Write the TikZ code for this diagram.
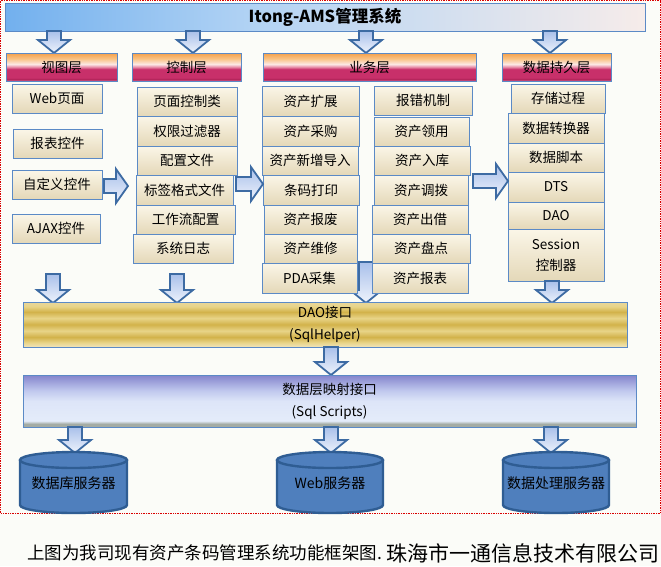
\documentclass[tikz,border=0pt]{standalone}
\usepackage{fontspec}
\setmainfont{Noto Sans CJK SC}
\definecolor{bgc}{HTML}{FBFCF8}
\definecolor{boxline}{HTML}{5B8AC6}
\definecolor{cTop}{HTML}{FBF6E8}
\definecolor{cBot}{HTML}{E4D8B8}
\definecolor{arrline}{HTML}{3D6BA3}
\definecolor{arrTop}{HTML}{A9C0EA}
\definecolor{arrBot}{HTML}{EEF3FC}
\definecolor{cylfill}{HTML}{4F7FBD}
\definecolor{cylline}{HTML}{2F5D93}
\definecolor{hO}{HTML}{F4A04A}
\definecolor{hO2}{HTML}{F9C283}
\definecolor{hL}{HTML}{FCE8E6}
\definecolor{hP}{HTML}{E68AA6}
\definecolor{hC}{HTML}{C8306A}
\definecolor{hD}{HTML}{B02458}
\definecolor{hE}{HTML}{D87098}
\definecolor{gA}{HTML}{E8D69C}
\definecolor{gB}{HTML}{D2B24A}
\definecolor{gC}{HTML}{E8D488}
\definecolor{gD}{HTML}{F0E4BC}
\definecolor{mA}{HTML}{8484CC}
\definecolor{mB}{HTML}{C0C8EE}
\definecolor{mC}{HTML}{DDE5F8}
\definecolor{mD}{HTML}{E4ECFA}
\definecolor{mE}{HTML}{A4ACA4}
\definecolor{tL}{HTML}{72B0EE}
\definecolor{tM}{HTML}{B4D4F4}
\definecolor{tR}{HTML}{F6ECEA}
\pgfdeclareverticalshading{hdrshade}{100bp}{color(0bp)=(hE); color(25bp)=(hE); color(28bp)=(hD); color(31bp)=(hC); color(46bp)=(hC); color(50bp)=(hP); color(55bp)=(hL); color(65bp)=(hO2); color(75bp)=(hO); color(100bp)=(hO)}
\pgfdeclareverticalshading{daoshade}{100bp}{color(0bp)=(gD); color(25bp)=(gD); color(30bp)=(gC); color(36bp)=(gB); color(43bp)=(gC); color(50bp)=(gB); color(57bp)=(gC); color(64bp)=(gB); color(70bp)=(gC); color(75bp)=(gA); color(100bp)=(gA)}
\pgfdeclareverticalshading{mapshade}{100bp}{color(0bp)=(mE); color(25bp)=(mE); color(28bp)=(mE); color(31bp)=(mD); color(50bp)=(mC); color(60bp)=(mB); color(75bp)=(mA); color(100bp)=(mA)}
\pgfdeclarehorizontalshading{titleshade}{100bp}{color(0bp)=(tL); color(25bp)=(tL); color(45bp)=(tM); color(75bp)=(tR); color(100bp)=(tR)}

% box by corners: style, name, x1, y1, x2, y2, text
\newcommand\BX[7]{\node[#1, minimum width={#5-#3}, minimum height={#6-#4}] (#2) at ({(#3+#5)/2},{(#4+#6)/2}) {#7};}
% down block arrow: x, ytop, ybot
\newcommand\DArr[3]{\draw[blockarrow] (#1-7,#2) -- (#1+7,#2) -- (#1+7,#3-13) -- (#1+16,#3-13) -- (#1,#3) -- (#1-16,#3-13) -- (#1-7,#3-13) -- cycle;}
% right block arrow: xl, xr, yc
\newcommand\RArr[3]{\draw[blockarrow] (#1,#3-7) -- (#2-12,#3-7) -- (#2-12,#3-17) -- (#2,#3) -- (#2-12,#3+17) -- (#2-12,#3+7) -- (#1,#3+7) -- cycle;}
% cylinder: name, cx, rx, ytop, text
\newcommand\Cyl[5]{%
 \fill[cylfill] (#2-#3,#4) rectangle (#2+#3,#4+45);
 \fill[cylfill] (#2,#4+45) ellipse [x radius=#3pt, y radius=8pt];
 \draw[cylline, line width=2.4pt] (#2-#3,#4) -- (#2-#3,#4+45) arc[start angle=180, end angle=360, x radius=#3pt, y radius=8pt] -- (#2+#3,#4);
 \draw[cylline, line width=2.4pt, fill=cylfill] (#2,#4) ellipse [x radius=#3pt, y radius=8pt];
 \node[cyltext] (#1) at (#2,#4+23) {#5};}

\begin{document}
\begin{tikzpicture}[x=1pt, y=-1pt,
  cbox/.style={draw=boxline, line width=0.8pt, top color=cTop, bottom color=cBot, inner sep=0pt, align=center, font=\fontsize{13.5}{17}\selectfont},
  hdr/.style={draw=boxline, line width=0.8pt, shade, shading=hdrshade, inner sep=0pt, font=\fontsize{13.5}{16}\selectfont},
  blockarrow/.style={draw=arrline, line width=1.8pt, top color=arrTop, bottom color=arrBot, line join=miter},
  cyltext/.style={inner sep=0pt, font=\fontsize{14}{16}\selectfont}]
\fill[bgc] (0,0) rectangle (661,566);
\useasboundingbox (0,0) rectangle (661,566);
\draw[red!85!black, densely dotted, line width=0.7pt] (0.5,0.5) rectangle (660.5,513);

% title
\node[draw=boxline, line width=0.8pt, shade, shading=titleshade, minimum width=640, minimum height=28, inner sep=0pt, font=\bfseries\fontsize{16.5}{18}\selectfont] (title) at (325,17) {Itong-AMS管理系统};

% arrows title -> headers
\DArr{54}{31}{53}
\DArr{193}{31}{53}
\DArr{366}{31}{53}
\DArr{550}{31}{53}

% headers
\BX{hdr}{h1}{6}{53}{117}{81}{视图层}
\BX{hdr}{h2}{132}{53}{241}{81}{控制层}
\BX{hdr}{h3}{263}{53}{476}{81}{业务层}
\BX{hdr}{h4}{502}{53}{611}{81}{数据持久层}

% arrow behind business boxes
\DArr{366}{262}{303}

% view layer
\BX{cbox}{v1}{12}{84}{102}{113}{Web页面}
\BX{cbox}{v2}{13}{129}{102}{158}{报表控件}
\BX{cbox}{v3}{12}{170}{102}{199}{自定义控件}
\BX{cbox}{v4}{12}{214}{100}{243}{AJAX控件}

% control layer
\BX{cbox}{c1}{137}{87}{237}{116}{页面控制类}
\BX{cbox}{c2}{137}{116}{237}{146}{权限过滤器}
\BX{cbox}{c3}{137}{146}{237}{175}{配置文件}
\BX{cbox}{c4}{136}{175}{233}{205}{标签格式文件}
\BX{cbox}{c5}{136}{205}{235}{234}{工作流配置}
\BX{cbox}{c6}{133}{234}{233}{263}{系统日志}

% business layer left
\BX{cbox}{b1}{262}{86}{359}{116}{资产扩展}
\BX{cbox}{b2}{262}{116}{359}{146}{资产采购}
\BX{cbox}{b3}{262}{146}{358}{175}{资产新增导入}
\BX{cbox}{b4}{263}{175}{359}{205}{条码打印}
\BX{cbox}{b5}{264}{205}{357}{234}{资产报废}
\BX{cbox}{b6}{264}{234}{357}{263}{资产维修}
\BX{cbox}{b7}{262}{263}{357}{293}{PDA采集}

% business layer right
\BX{cbox}{r1}{374}{86}{472}{115}{报错机制}
\BX{cbox}{r2}{374}{117}{469}{146}{资产领用}
\BX{cbox}{r3}{374}{146}{470}{175}{资产入库}
\BX{cbox}{r4}{374}{175}{468}{205}{资产调拨}
\BX{cbox}{r5}{372}{205}{468}{234}{资产出借}
\BX{cbox}{r6}{372}{234}{470}{263}{资产盘点}
\BX{cbox}{r7}{372}{263}{468}{293}{资产报表}

% persistence layer
\BX{cbox}{d1}{511}{84}{605}{113}{存储过程}
\BX{cbox}{d2}{508}{113}{604}{143}{数据转换器}
\BX{cbox}{d3}{508}{143}{604}{172}{数据脚本}
\BX{cbox}{d4}{508}{172}{604}{202}{DTS}
\BX{cbox}{d5}{508}{202}{604}{229}{DAO}
\BX{cbox}{d6}{508}{229}{604}{281}{Session\\[4pt]控制器}

% right arrows between columns
\RArr{104}{128}{186}
\RArr{236}{263}{184}
\RArr{473}{508}{181}

% arrows into DAO bar
\DArr{53}{274}{303}
\DArr{177}{274}{303}
\DArr{552}{281}{303}

% DAO bar
\node[draw=boxline, line width=0.8pt, shade, shading=daoshade, minimum width=604, minimum height=45, inner sep=0pt, align=center, font=\fontsize{13.5}{22}\selectfont] (dao) at (325,324.5) {DAO接口\\(SqlHelper)};

\DArr{331}{347}{375}

% mapping bar
\node[draw=boxline, line width=0.8pt, shade, shading=mapshade, minimum width=613, minimum height=52, inner sep=0pt, align=center, font=\fontsize{13.5}{22}\selectfont] (map) at (329.5,401) {数据层映射接口\\(Sql Scripts)};

% arrows into servers
\DArr{75}{427}{453}
\DArr{331}{427}{453}
\DArr{551}{427}{453}

% servers
\Cyl{s1}{73.5}{53.5}{460}{数据库服务器}
\Cyl{s2}{330}{53}{460}{Web服务器}
\Cyl{s3}{556}{53}{460}{数据处理服务器}

% caption
\node[anchor=west, inner sep=0pt, font=\fontsize{17.5}{20}\selectfont] (cap1) at (27,553) {上图为我司现有资产条码管理系统功能框架图.};
\node[anchor=east, inner sep=0pt, font=\fontsize{21}{24}\selectfont] (cap2) at (660,553) {珠海市一通信息技术有限公司};
\end{tikzpicture}
\end{document}
